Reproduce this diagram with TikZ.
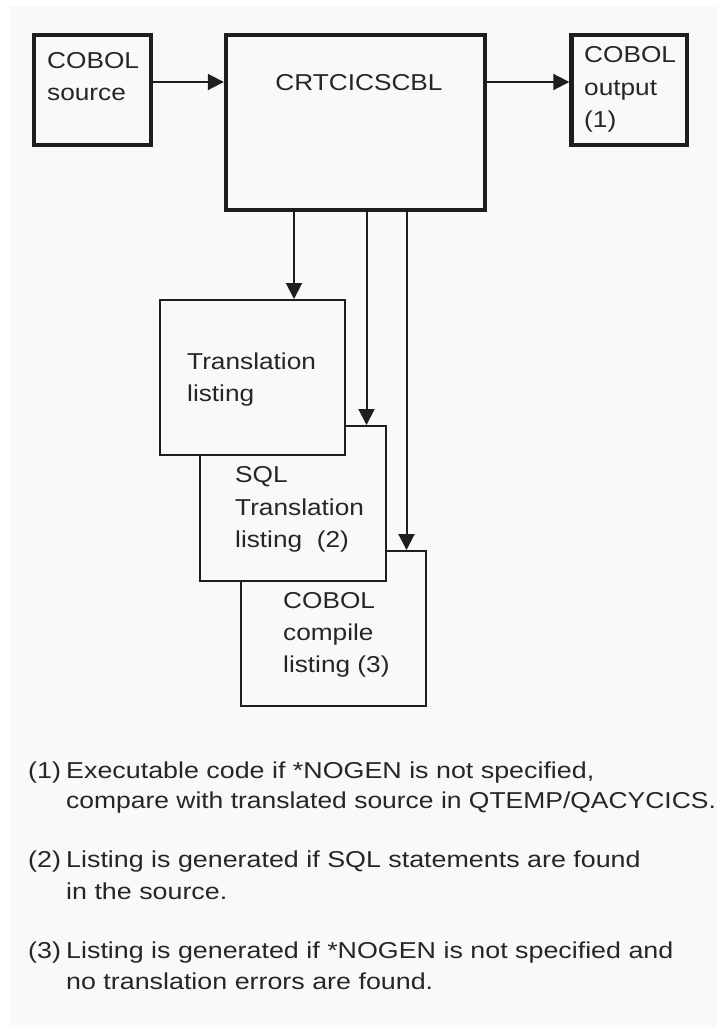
\documentclass[tikz,border=0pt]{standalone}
\usepackage{fontspec}
\setmainfont{Liberation Sans}[FakeStretch=1.14]
\newfontfamily\notefont{Liberation Sans}[FakeStretch=1.167]
\newfontfamily\notetightfont{Liberation Sans}[FakeStretch=1.15]
\usetikzlibrary{arrows.meta}
\definecolor{paper}{HTML}{F9F9F9}
\definecolor{ink}{HTML}{1E1E1E}
\definecolor{type}{HTML}{262626}
\begin{document}
\begin{tikzpicture}[x=1pt,y=-1pt,
  heavybox/.style={draw=ink, line width=4.4pt, fill=paper, inner sep=0pt},
  listbox/.style={draw=ink, line width=2pt, fill=paper, inner sep=0pt},
  arr/.style={draw=ink, line width=2pt, -{Triangle[length=16pt,width=16pt]}},
  txt/.style={font=\fontsize{23}{32}\selectfont, text=type, inner sep=0pt, anchor=base west},
  note/.style={txt, font=\notefont\fontsize{23}{32}\selectfont},
  notetight/.style={txt, font=\notetightfont\fontsize{23}{32}\selectfont},
]
% page and paper
\useasboundingbox (0,0) rectangle (717,1027);
\fill[paper] (10,6) rectangle (717,1027);

% top row
\node[heavybox, minimum width=117pt, minimum height=109.7pt] (src) at (92.5,89.9) {};
\node[heavybox, minimum width=258.7pt, minimum height=175pt] (crt) at (355.35,122.5) {};
\node[heavybox, minimum width=115.5pt, minimum height=109.7pt] (out) at (629.25,89.9) {};

\node[txt] (srcA) at (47,69) {COBOL};
\node[txt] (srcB) at (47,101) {source};
\node[txt, anchor=base] (crtA) at (359,91) {CRTCICSCBL};
\node[txt] (outA) at (584,63) {COBOL};
\node[txt] (outB) at (584,96) {output};
\node[txt] (outC) at (584,128) {(1)};

% stacked listings, back to front
\node[listbox, minimum width=185pt, minimum height=155pt] (cmp) at (333.5,628.5) {};
\node[listbox, minimum width=186pt, minimum height=155pt] (sql) at (293,503.5) {};
\node[listbox, minimum width=185pt, minimum height=155pt] (trl) at (252.5,377.5) {};

\node[txt] (trlA) at (187,369) {Translation};
\node[txt] (trlB) at (187,401) {listing};
\node[txt] (sqlA) at (235,482) {SQL};
\node[txt] (sqlB) at (235,515) {Translation};
\node[txt] (sqlC) at (235,547) {listing~~(2)};
\node[txt] (cmpA) at (283,608) {COBOL};
\node[txt] (cmpB) at (283,640) {compile};
\node[txt] (cmpC) at (283,672) {listing (3)};

% connectors
\draw[arr] (src.east |- 0,82) -- (crt.west |- 0,82);
\draw[arr] (crt.east |- 0,82) -- (out.west |- 0,82);
\draw[arr] (crt.south -| 294,0) -- (trl.north -| 294,0);
\draw[arr] (crt.south -| 366.5,0) -- (sql.north -| 366.5,0);
\draw[arr] (crt.south -| 406.5,0) -- (cmp.north -| 406.5,0);

% notes
\node[note] (n1) at (28,778) {(1)};
\node[note] (n1a) at (66,778) {Executable code if *NOGEN is not specified,};
\node[notetight] (n1b) at (66,808) {compare with translated source in QTEMP/QACYCICS.};
\node[note] (n2) at (28,867) {(2)};
\node[note] (n2a) at (66,867) {Listing is generated if SQL statements are found};
\node[note] (n2b) at (66,899) {in the source.};
\node[note] (n3) at (28,958) {(3)};
\node[note] (n3a) at (66,958) {Listing is generated if *NOGEN is not specified and};
\node[note] (n3b) at (66,989) {no translation errors are found.};
\end{tikzpicture}
\end{document}
